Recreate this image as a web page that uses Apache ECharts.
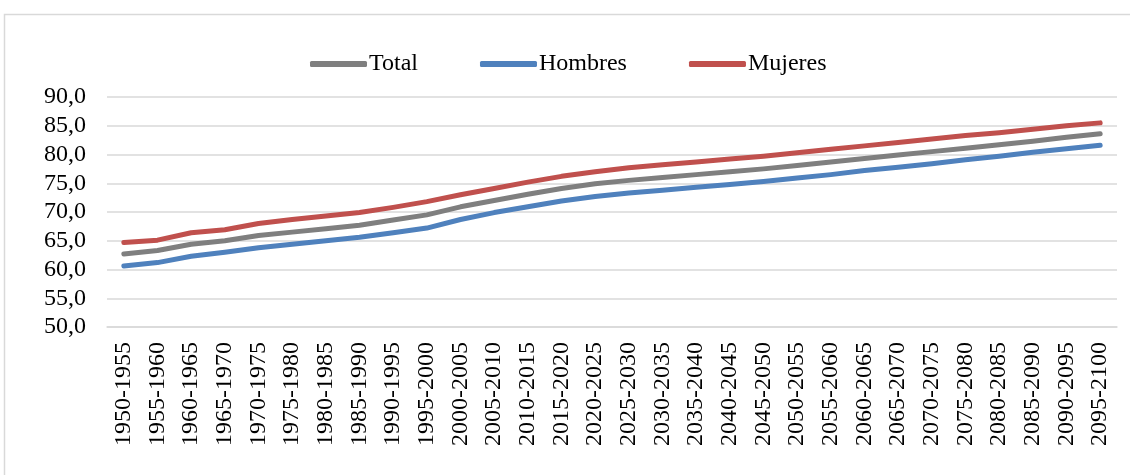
<!DOCTYPE html>
<html>
<head>
<meta charset="utf-8">
<script src="https://cdn.jsdelivr.net/npm/echarts@6/dist/echarts.min.js"></script>
<style>
  html, body { margin: 0; padding: 0; background: #ffffff; }
  #chart { width: 1130px; height: 475px; }
</style>
</head>
<body>
<div id="chart"></div>
<script>
// Five-year periods 1950-1955 ... 2095-2100
const periods = [
  '1950-1955','1955-1960','1960-1965','1965-1970','1970-1975','1975-1980',
  '1980-1985','1985-1990','1990-1995','1995-2000','2000-2005','2005-2010',
  '2010-2015','2015-2020','2020-2025','2025-2030','2030-2035','2035-2040',
  '2040-2045','2045-2050','2050-2055','2055-2060','2060-2065','2065-2070',
  '2070-2075','2075-2080','2080-2085','2085-2090','2090-2095','2095-2100'
];

// Life expectancy at birth (years)
const total = [
  62.7, 63.3, 64.4, 65.0, 65.9, 66.5, 67.1, 67.7, 68.6, 69.5,
  70.9, 72.0, 73.1, 74.1, 74.9, 75.5, 76.0, 76.5, 77.0, 77.5,
  78.1, 78.7, 79.3, 79.9, 80.5, 81.1, 81.7, 82.3, 83.0, 83.6
];
const hombres = [
  60.6, 61.2, 62.3, 63.0, 63.8, 64.4, 65.0, 65.6, 66.4, 67.2,
  68.7, 69.9, 70.9, 71.9, 72.7, 73.3, 73.8, 74.3, 74.8, 75.3,
  75.9, 76.5, 77.2, 77.8, 78.4, 79.1, 79.7, 80.4, 81.0, 81.6
];
const mujeres = [
  64.7, 65.1, 66.4, 66.9, 68.0, 68.7, 69.3, 69.9, 70.8, 71.8,
  73.0, 74.1, 75.2, 76.2, 77.0, 77.7, 78.2, 78.7, 79.2, 79.7,
  80.3, 80.9, 81.5, 82.1, 82.7, 83.3, 83.8, 84.4, 85.0, 85.5
];

const yMin = 50, yMax = 90, yStep = 5;

const font = '"Liberation Serif", "Times New Roman", serif';
const fontSize = 24;
const colors = { total: '#7f7f7f', hombres: '#4f81bd', mujeres: '#c0504d' };

function lineSeries(name, data, color) {
  return {
    name: name,
    type: 'line',
    data: data,
    symbol: 'none',
    smooth: false,
    lineStyle: { color: color, width: 5, cap: 'round', join: 'round' },
    itemStyle: { color: color },
    emphasis: { disabled: true }
  };
}

const chart = echarts.init(document.getElementById('chart'), null, { renderer: 'canvas' });

chart.setOption({
  animation: false,
  backgroundColor: '#ffffff',
  textStyle: { fontFamily: font },
  graphic: [{
    type: 'rect',
    shape: { x: 4.5, y: 14.5, width: 1140, height: 480 },
    style: { fill: 'none', stroke: '#d9d9d9', lineWidth: 1.5 },
    silent: true,
    z: -1
  }],
  legend: {
    top: 47,
    left: 305,
    itemWidth: 57,
    itemHeight: 6,
    itemGap: 62,
    icon: 'roundRect',
    textStyle: { fontFamily: font, fontSize: fontSize, color: '#000000', padding: [0, 0, 0, -3] },
    data: ['Total', 'Hombres', 'Mujeres']
  },
  grid: { left: 107, right: 13, top: 97, bottom: 148, containLabel: false },
  xAxis: {
    type: 'category',
    data: periods,
    boundaryGap: true,
    axisLine: { show: true, lineStyle: { color: '#d9d9d9', width: 1.5 } },
    axisTick: { show: false },
    axisLabel: {
      rotate: 90,
      interval: 0,
      margin: 15,
      fontFamily: font,
      fontSize: fontSize,
      color: '#000000'
    }
  },
  yAxis: {
    type: 'value',
    min: yMin,
    max: yMax,
    interval: yStep,
    axisLine: { show: false },
    axisTick: { show: false },
    splitLine: { show: true, lineStyle: { color: '#d9d9d9', width: 1.5 } },
    axisLabel: {
      margin: 21,
      fontFamily: font,
      fontSize: fontSize,
      color: '#000000',
      formatter: v => v.toFixed(1).replace('.', ',')
    }
  },
  series: [
    lineSeries('Total', total, colors.total),
    lineSeries('Hombres', hombres, colors.hombres),
    lineSeries('Mujeres', mujeres, colors.mujeres)
  ]
});
</script>
</body>
</html>
